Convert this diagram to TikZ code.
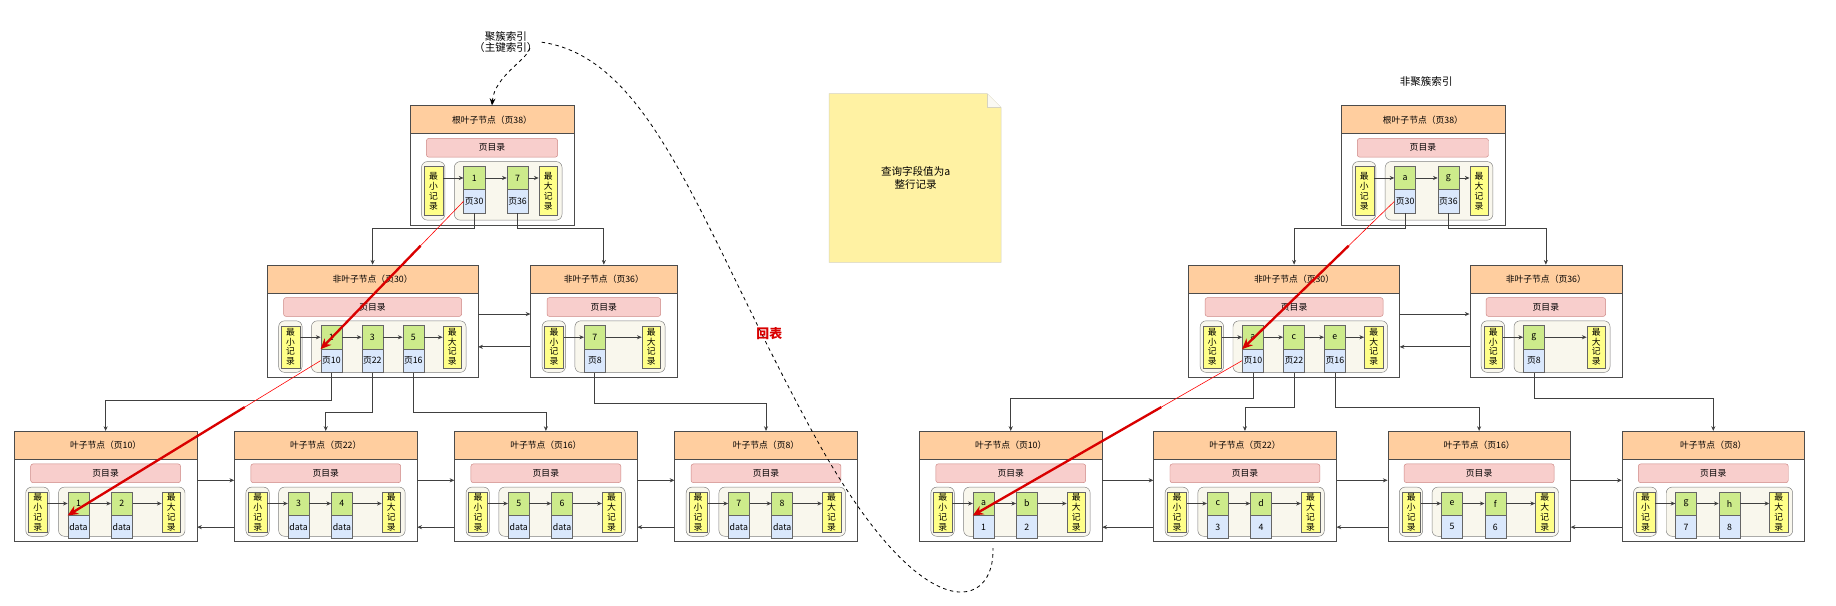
\documentclass[tikz,border=0pt]{standalone}
\usepackage{fontspec}
\setmainfont{Noto Sans CJK SC}
\usetikzlibrary{arrows.meta,calc,shapes.geometric}
\definecolor{hdrc}{HTML}{FFCE9F}\definecolor{hdrd}{HTML}{B46504}
\definecolor{pinkc}{HTML}{F8CECC}\definecolor{pinkd}{HTML}{B85450}
\definecolor{grc}{HTML}{CDEB8B}\definecolor{grd}{HTML}{6C8EBF}
\definecolor{blc}{HTML}{DAE8FC}\definecolor{yec}{HTML}{FFFF88}
\definecolor{recc}{HTML}{F9F7ED}\definecolor{noteC}{HTML}{FFF2A3}
\tikzset{
 boxs/.style={draw=black!70,fill=white,inner sep=0pt},
 hdr/.style={draw=black!70,fill=hdrc,inner sep=0pt,font=\fontsize{7.5}{8}\selectfont},
 dirb/.style={draw=pinkd!70,fill=pinkc,rounded corners=2pt,inner sep=0pt,font=\fontsize{7.5}{8}\selectfont},
 recbox/.style={draw=black!50,fill=recc,rounded corners=5pt,inner sep=0pt},
 yel/.style={draw=black!60,fill=yec,inner sep=0pt,minimum width=16,align=center,font=\fontsize{7.5}{8.5}\selectfont},
 gcell/.style={draw=black!60,fill=grc,inner sep=0pt,minimum width=18,minimum height=20,font=\fontsize{7.5}{8}\selectfont},
 bcell/.style={draw=black!60,fill=blc,inner sep=0pt,minimum width=18,minimum height=20,font=\fontsize{7.5}{8}\selectfont},
 conn/.style={draw=black!75,line width=0.6pt,-{Stealth[length=4pt,width=3.5pt]}},
 redar/.style={draw=red!85!black,line width=2pt,-{Stealth[length=9pt,width=8pt]}},
}
\newcommand\pg[8]{%
 \node[boxs,minimum width=#4,minimum height=#5,anchor=north west] (#1box) at (#2,#3) {};
 \node[hdr,minimum width=#4,minimum height=24,anchor=north west] (#1) at (#2,#3) {#6};
 \node[dirb,minimum width=#4-28,minimum height=16,anchor=north west] at (#2+14,#3+28) {页目录};
 \draw[recbox] (#2+10,#3+48) rectangle (#2+30,#3+#5-4);
 \node[yel,minimum height=#5-60,anchor=north west] (#1min) at (#2+12,#3+52) {最\\小\\记\\录};
 \draw[recbox] (#2+38,#3+48) rectangle (#2+#4-10,#3+#5-4);
 \node[yel,minimum height=#5-60,anchor=north west] (#1max) at (#2+#4-30,#3+52) {最\\大\\记\\录};
 \foreach \k/\v [count=\i] in {#8}{%
   \node[gcell] (#1g\i) at (#2+55+\i*#7-#7,#3+62) {\k};
   \node[bcell] (#1b\i) at (#2+55+\i*#7-#7,#3+82) {\v};
   \ifnum\i=1 \draw[conn] (#1min.east|-#1g1) -- (#1g1);
   \else \pgfmathtruncatemacro\j{\i-1}\draw[conn] (#1g\j) -- (#1g\i);\fi
   \xdef\lastn{\i}}
 \draw[conn] (#1g\lastn) -- (#1max.west|-#1g\lastn);
}
\begin{document}
\begin{tikzpicture}[x=1pt,y=-1pt]
\useasboundingbox (0,0) rectangle (1568,517.5);
\fill[white] (0,0) rectangle (1568,517.5);
% left tree
\pg{R}{350}{90}{140}{102}{根叶子节点（页38）}{37}{1/页30,7/页36}
\pg{Na}{228}{226}{180}{96}{非叶子节点（页30）}{35}{1/页10,3/页22,5/页16}
\pg{Nb}{453}{226}{125}{96}{非叶子节点（页36）}{35}{7/页8}
\pg{La}{12}{368}{156}{94}{叶子节点（页10）}{37}{1/data,2/data}
\pg{Lb}{200}{368}{156}{94}{叶子节点（页22）}{37}{3/data,4/data}
\pg{Lc}{388}{368}{156}{94}{叶子节点（页16）}{37}{5/data,6/data}
\pg{Ld}{576}{368}{156}{94}{叶子节点（页8）}{37}{7/data,8/data}
% right tree
\pg{S}{1145}{90}{140}{102}{根叶子节点（页38）}{37}{a/页30,g/页36}
\pg{Ma}{1015}{226}{180}{96}{非叶子节点（页30）}{35}{a/页10,c/页22,e/页16}
\pg{Mb}{1255}{226}{130}{96}{非叶子节点（页36）}{35}{g/页8}
\pg{Ka}{785}{368}{156}{94}{叶子节点（页10）}{37}{a/1,b/2}
\pg{Kb}{985}{368}{156}{94}{叶子节点（页22）}{37}{c/3,d/4}
\pg{Kc}{1185}{368}{156}{94}{叶子节点（页16）}{37}{e/5,f/6}
\pg{Kd}{1385}{368}{156}{94}{叶子节点（页8）}{37}{g/7,h/8}
% tree edges
\draw[conn] (Rb1.south) -- ++(0,13) -| (Na.north);
\draw[conn] (Rb2.south) -- ++(0,13) -| (Nb.north);
\draw[conn] (Nab1.south) -- ++(0,24) -| (La.north);
\draw[conn] (Nab2.south) -- ++(0,34) -| (Lb.north);
\draw[conn] (Nab3.south) -- ++(0,34) -| (Lc.north);
\draw[conn] (Nbb1.south) -- ++(0,26) -| (Ld.north);
\draw[conn] (Sb1.south) -- ++(0,13) -| (Ma.north);
\draw[conn] (Sb2.south) -- ++(0,13) -| (Mb.north);
\draw[conn] (Mab1.south) -- ++(0,22) -| (Ka.north);
\draw[conn] (Mab2.south) -- ++(0,30) -| (Kb.north);
\draw[conn] (Mab3.south) -- ++(0,30) -| (Kc.north);
\draw[conn] (Mbb1.south) -- ++(0,22) -| (Kd.north);
% sibling links
\foreach \a/\b/\u/\d in {Na/Nb/6/-22,Ma/Mb/6/-22,La/Lb/5/-35,Lb/Lc/5/-35,Lc/Ld/5/-35,Ka/Kb/5/-35,Kb/Kc/5/-35,Kc/Kd/5/-35}{
 \coordinate (p1) at ([yshift=\u]\a box.east);
 \coordinate (p2) at ([yshift=\d]\b box.west);
 \draw[conn] (p1) -- (p1 -| \b box.west);
 \draw[conn] (p2) -- (p2 -| \a box.east);}
% red arrows
\foreach \s/\t in {Rb1/Nag1,Nab1/Lag1,Sb1/Mag1,Mab1/Kag1}{
 \coordinate (rs) at (\s.west); \coordinate (rt) at (\t.south west);
 \draw[red,line width=0.5pt] (rs) -- ($(rs)!0.35!(rt)$);
 \draw[redar] ($(rs)!0.3!(rt)$) -- (rt);}
% labels
\node[font=\fontsize{9}{10}\selectfont,align=center] (ci) at (432,36) {聚簇索引\\（主键索引）};
\node[font=\fontsize{9}{10}\selectfont] (nci) at (1218,70) {非聚簇索引};
\draw[dashed,line width=0.7pt,-{Stealth[length=6pt,width=5pt]}] ([shift={(-10,5)}]ci.east) .. controls +(-2,10) and +(2,-25) .. (R.north);
\draw[dashed,line width=0.7pt] (ci.east) .. controls (560,50) and (600,200) .. (700,380) .. controls (790,540) and (850,520) .. (848,468);
\node[text=red!85!black,font=\bfseries\fontsize{11}{12}\selectfont] (hb) at (657,285) {回表};
\draw[draw=noteC!60!black!40,fill=noteC] (708,80) -- (843,80) -- (855,92) -- (855,224) -- (708,224) -- cycle;
\draw[draw=noteC!60!black!40,fill=noteC!80!black!10] (843,80) -- (843,92) -- (855,92);
\node[font=\fontsize{9}{11}\selectfont,align=center] (nt) at (782,152) {查询字段值为a\\整行记录};
\end{tikzpicture}
\end{document}
